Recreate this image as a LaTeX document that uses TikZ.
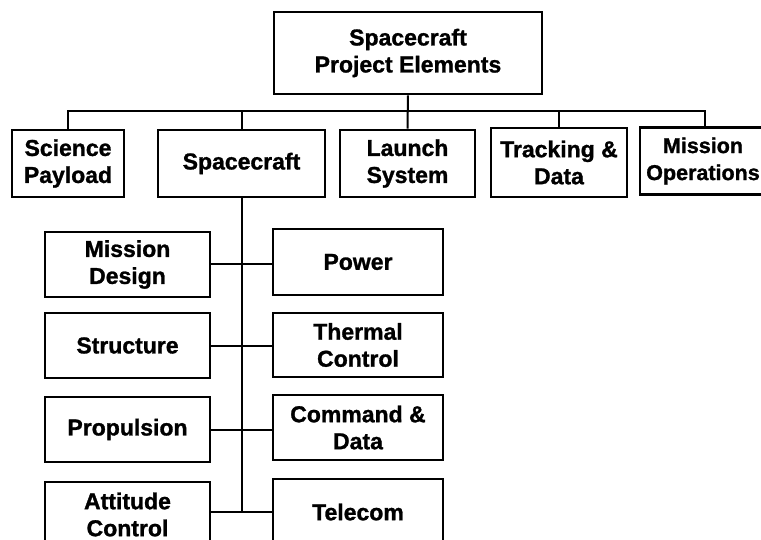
\documentclass[tikz,border=0pt]{standalone}
\usepackage{fontspec}
\setmainfont{Liberation Sans}[BoldFeatures={FakeBold=1.2}]
\begin{document}
\begin{tikzpicture}[x=1pt,y=-1pt,
  box/.style={draw=black,line width=2.6pt,inner sep=0pt,align=center,
    font=\bfseries\fontsize{23}{27}\selectfont},
  conn/.style={draw=black,line width=2pt}]
\useasboundingbox (0,0) rectangle (761,540);
\fill[white] (0,0) rectangle (761,540);
% top
\node[box,minimum width=268pt,minimum height=82pt] (top) at (408,53) {Spacecraft\\Project Elements};
% second row
\node[box,minimum width=112pt,minimum height=67pt] (sci) at (68,163.5) {Science\\Payload};
\node[box,minimum width=167pt,minimum height=67pt] (sc) at (241.5,163.5) {Spacecraft};
\node[box,minimum width=135pt,minimum height=67pt] (launch) at (407.5,163.5) {Launch\\System};
\node[box,minimum width=136pt,minimum height=69pt] (track) at (559,162.5) {Tracking \&\\Data};
\node[box,minimum width=130pt,minimum height=67pt] (mops) at (705,161) {};
\node[font=\bfseries\fontsize{21.5}{27}\selectfont,align=center,inner sep=0pt] (mopstext) at (703,161) {Mission\\Operations};
% left column
\node[box,minimum width=165pt,minimum height=65pt] (md) at (127.5,264.5) {Mission\\Design};
\node[box,minimum width=165pt,minimum height=65pt] (st) at (127.5,345.5) {Structure};
\node[box,minimum width=165pt,minimum height=65pt] (pr) at (127.5,429.5) {Propulsion};
\node[box,minimum width=165pt,minimum height=65pt] (ac) at (127.5,514.5) {Attitude\\Control};
% right column
\node[box,minimum width=170pt,minimum height=66pt] (pw) at (358,262) {Power};
\node[box,minimum width=170pt,minimum height=64pt] (th) at (358,345) {Thermal\\Control};
\node[box,minimum width=170pt,minimum height=65pt] (cd) at (358,427.5) {Command \&\\Data};
\node[box,minimum width=170pt,minimum height=66pt] (tc) at (358,512) {Telecom};
% top bus
\coordinate (bus) at (408,111);
\draw[conn] (top.south) -- (launch.north);
\draw[conn] (sci.north) |- (bus) -| (mops.north);
\draw[conn] (sc.north) -- (sc.north |- bus);
\draw[conn] (track.north) -- (track.north |- bus);
% spine
\coordinate (spineend) at (241.5,512);
\draw[conn] (sc.south) -- (spineend);
\draw[conn] (md.east) -- (md.east -| pw.west);
\draw[conn] (st.east) -- (st.east -| th.west);
\draw[conn] (pr.east) -- (pr.east -| cd.west);
\draw[conn] (ac.east |- spineend) -- (spineend -| tc.west);
\end{tikzpicture}
\end{document}
